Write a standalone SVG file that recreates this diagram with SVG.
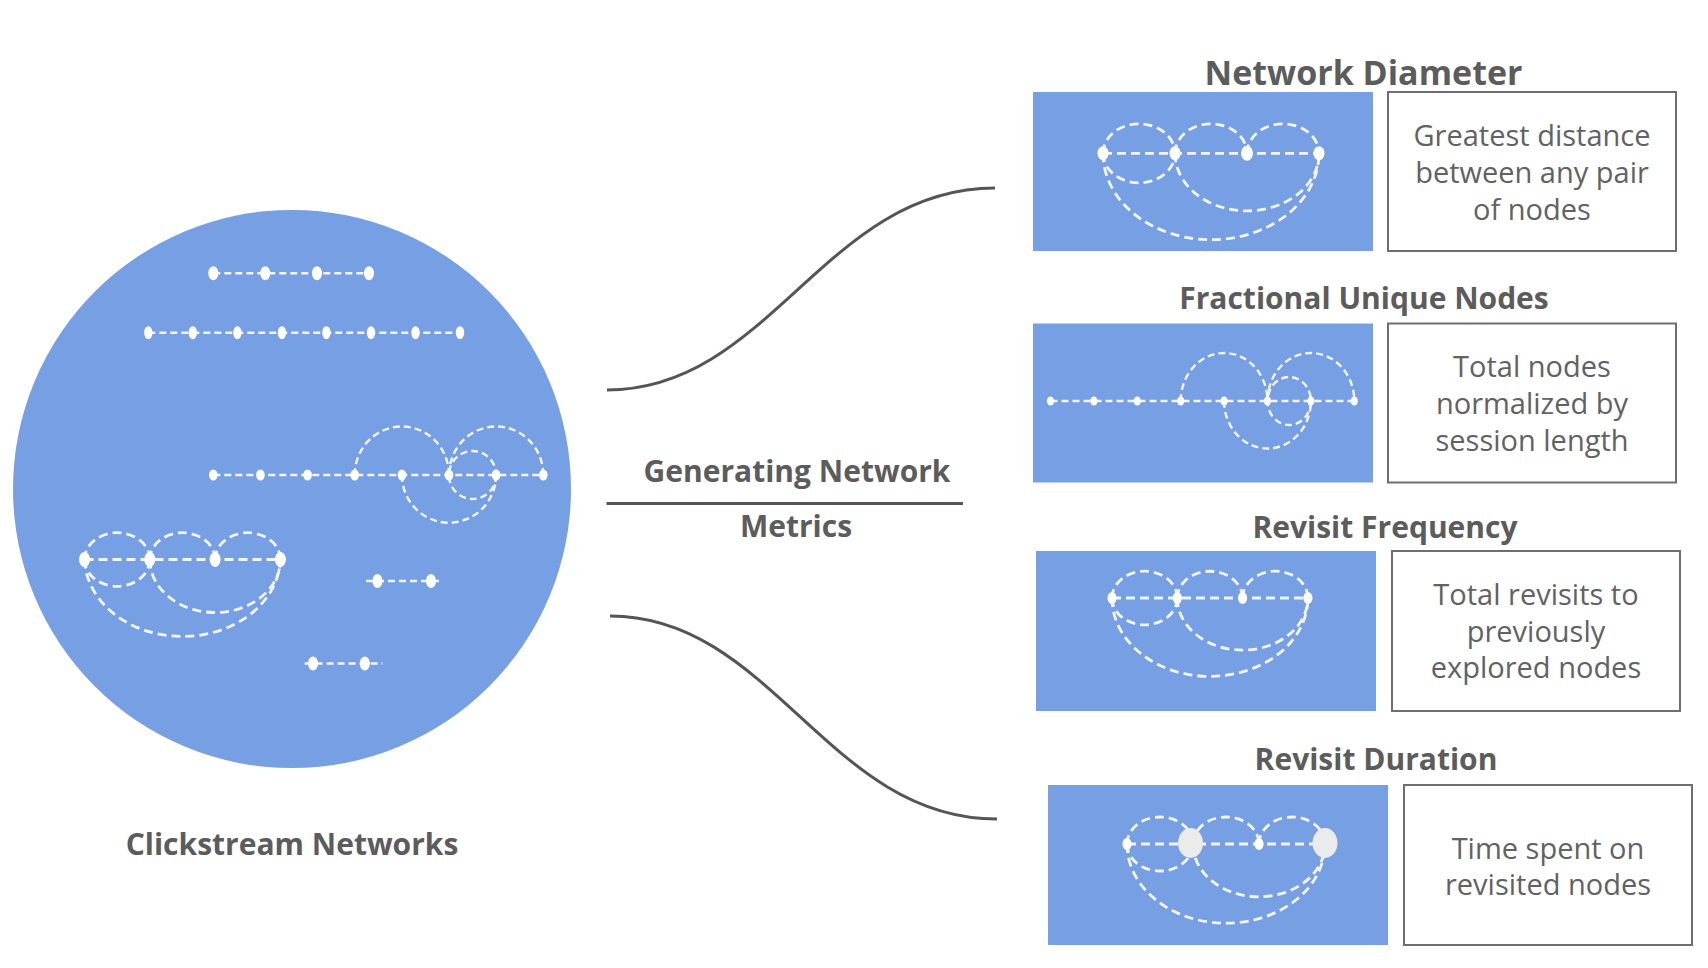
<svg xmlns="http://www.w3.org/2000/svg" width="1708" height="968" viewBox="0 0 1708 968">
<style>
.bg{fill:#ffffff}
.blue{fill:#779fe4}
.box{fill:#ffffff;stroke:#6e6e6e;stroke-width:2}
.e{fill:none;stroke:#f2f4f8;stroke-width:2.8;stroke-dasharray:9 5}
.es{fill:none;stroke:#f2f4f8;stroke-width:2.4;stroke-dasharray:7 4}
.n{fill:#ffffff}
.big{fill:#ebebeb}
.conn{fill:none;stroke:#555555;stroke-width:3}
.title{font-family:"Open Sans","Noto Sans","Liberation Sans",sans-serif;font-weight:bold;fill:#5c5c5c;text-anchor:middle}
.desc{font-family:"Open Sans","Noto Sans","Liberation Sans",sans-serif;font-size:29px;fill:#626262;text-anchor:middle}
</style>
<rect class="bg" x="0" y="0" width="1708" height="968"/>

<g id="clickstream-networks">
  <circle class="blue" cx="292" cy="489" r="279"/>
  <!-- row 1 -->
  <path class="es" d="M213.3,273.3 H369"/>
  <ellipse class="n" cx="213.3" cy="273.3" rx="5" ry="7"/>
  <ellipse class="n" cx="265.3" cy="273.3" rx="5" ry="7"/>
  <ellipse class="n" cx="317" cy="273.3" rx="5" ry="7"/>
  <ellipse class="n" cx="369" cy="273.3" rx="5" ry="7"/>
  <!-- row 2 -->
  <path class="es" d="M148.3,332.7 H460"/>
  <ellipse class="n" cx="148.3" cy="332.7" rx="4.2" ry="6.5"/>
  <ellipse class="n" cx="192.8" cy="332.7" rx="4.2" ry="6.5"/>
  <ellipse class="n" cx="237.4" cy="332.7" rx="4.2" ry="6.5"/>
  <ellipse class="n" cx="281.9" cy="332.7" rx="4.2" ry="6.5"/>
  <ellipse class="n" cx="326.4" cy="332.7" rx="4.2" ry="6.5"/>
  <ellipse class="n" cx="371" cy="332.7" rx="4.2" ry="6.5"/>
  <ellipse class="n" cx="415.5" cy="332.7" rx="4.2" ry="6.5"/>
  <ellipse class="n" cx="460" cy="332.7" rx="4.2" ry="6.5"/>
  <!-- row 3 -->
  <path class="es" d="M213.3,475 H543.3"/>
  <path class="es" d="M354.7,475 A47.1,48.5 0 0 1 449,475"/>
  <path class="es" d="M449,475 A47.1,48.5 0 0 1 543.3,475"/>
  <ellipse class="es" cx="472.55" cy="475" rx="23.6" ry="24"/>
  <path class="es" d="M401.9,475 A47.1,47.7 0 0 0 496.1,475"/>
  <ellipse class="n" cx="213.3" cy="475" rx="4.3" ry="5.5"/>
  <ellipse class="n" cx="260.4" cy="475" rx="4.3" ry="5.5"/>
  <ellipse class="n" cx="307.6" cy="475" rx="4.3" ry="5.5"/>
  <ellipse class="n" cx="354.7" cy="475" rx="4.3" ry="5.5"/>
  <ellipse class="n" cx="401.9" cy="475" rx="4.3" ry="5.5"/>
  <ellipse class="n" cx="449" cy="475" rx="4.3" ry="5.5"/>
  <ellipse class="n" cx="496.1" cy="475" rx="4.3" ry="5.5"/>
  <ellipse class="n" cx="543.3" cy="475" rx="4.3" ry="5.5"/>
  <!-- row 4 loop -->
  <path class="e" d="M84.5,559.5 H280.4"/>
  <path class="e" d="M84.5,559.5 A32.65,26.8 0 0 1 149.8,559.5"/>
  <path class="e" d="M149.8,559.5 A32.65,26.8 0 0 1 215.1,559.5"/>
  <path class="e" d="M215.1,559.5 A32.65,26.8 0 0 1 280.4,559.5"/>
  <path class="e" d="M84.5,559.5 A32.65,26.8 0 0 0 149.8,559.5"/>
  <path class="e" d="M149.8,559.5 A65.3,53 0 0 0 280.4,559.5"/>
  <path class="e" d="M84.5,559.5 A98,79.5 0 0 0 280.4,559.5"/>
  <ellipse class="n" cx="84.5" cy="559.5" rx="5.5" ry="7.5"/>
  <ellipse class="n" cx="149.8" cy="559.5" rx="5.5" ry="7.5"/>
  <ellipse class="n" cx="215.1" cy="559.5" rx="5.5" ry="7.5"/>
  <ellipse class="n" cx="280.4" cy="559.5" rx="5.5" ry="7.5"/>
  <!-- row 5 -->
  <path class="es" d="M366,581 H442.5"/>
  <ellipse class="n" cx="377.4" cy="581" rx="5" ry="7"/>
  <ellipse class="n" cx="431" cy="581" rx="5" ry="7"/>
  <!-- row 6 -->
  <path class="es" d="M304.6,663.5 H382.4"/>
  <ellipse class="n" cx="313" cy="663.5" rx="5" ry="7"/>
  <ellipse class="n" cx="364.8" cy="663.5" rx="5" ry="7"/>
  <text class="title" x="292" y="855" font-size="30">Clickstream Networks</text>
</g>

<g id="connectors">
  <path class="conn" d="M607,390 C770,390 825,188 995,188"/>
  <path class="conn" d="M610,616 C772,616 828,819 997,819"/>
</g>

<g id="generating-label">
  <text class="title" x="797" y="482" font-size="30">Generating Network</text>
  <line x1="606.5" y1="503.5" x2="963" y2="503.5" stroke="#555555" stroke-width="3"/>
  <text class="title" x="796" y="537" font-size="30">Metrics</text>
</g>

<g id="network-diameter">
  <text class="title" x="1363.5" y="85" font-size="34">Network Diameter</text>
  <rect class="blue" x="1033" y="92" width="340" height="159"/>
  <path class="e" d="M1103,153.3 H1319"/>
  <path class="e" d="M1103,153.3 A36,29.5 0 0 1 1175,153.3"/>
  <path class="e" d="M1175,153.3 A36,29.5 0 0 1 1247,153.3"/>
  <path class="e" d="M1247,153.3 A36,29.5 0 0 1 1319,153.3"/>
  <path class="e" d="M1103,153.3 A36,29.5 0 0 0 1175,153.3"/>
  <path class="e" d="M1175,153.3 A72,57.6 0 0 0 1319,153.3"/>
  <path class="e" d="M1103,153.3 A108,86.4 0 0 0 1319,153.3"/>
  <ellipse class="n" cx="1103" cy="153.3" rx="5.5" ry="7"/>
  <ellipse class="n" cx="1175" cy="153.3" rx="5.5" ry="7"/>
  <ellipse class="n" cx="1247" cy="153.3" rx="6" ry="7.5"/>
  <ellipse class="n" cx="1319" cy="153.3" rx="5.5" ry="7"/>
  <rect class="box" x="1388" y="92" width="288" height="159"/>
  <text class="desc" x="1532" y="146">Greatest distance</text>
  <text class="desc" x="1532" y="183">between any pair</text>
  <text class="desc" x="1532" y="219.5">of nodes</text>
</g>

<g id="fractional-unique-nodes">
  <text class="title" x="1364" y="308.5" font-size="30">Fractional Unique Nodes</text>
  <rect class="blue" x="1033" y="323.5" width="340" height="159"/>
  <path class="es" d="M1050.5,401 H1354.3"/>
  <path class="es" d="M1180.7,401 A43.4,48 0 0 1 1267.5,401"/>
  <path class="es" d="M1267.5,401 A43.4,48 0 0 1 1354.3,401"/>
  <ellipse class="es" cx="1289.2" cy="401" rx="21.7" ry="24"/>
  <path class="es" d="M1224.1,401 A43.4,47.5 0 0 0 1310.9,401"/>
  <ellipse class="n" cx="1050.5" cy="401" rx="3.6" ry="4.6"/>
  <ellipse class="n" cx="1093.9" cy="401" rx="3.6" ry="4.6"/>
  <ellipse class="n" cx="1137.3" cy="401" rx="3.6" ry="4.6"/>
  <ellipse class="n" cx="1180.7" cy="401" rx="3.6" ry="4.6"/>
  <ellipse class="n" cx="1224.1" cy="401" rx="3.6" ry="4.6"/>
  <ellipse class="n" cx="1267.5" cy="401" rx="3.6" ry="4.6"/>
  <ellipse class="n" cx="1310.9" cy="401" rx="3.6" ry="4.6"/>
  <ellipse class="n" cx="1354.3" cy="401" rx="3.6" ry="4.6"/>
  <rect class="box" x="1388" y="323.5" width="288" height="159"/>
  <text class="desc" x="1532" y="377">Total nodes</text>
  <text class="desc" x="1532" y="414">normalized by</text>
  <text class="desc" x="1532" y="450.5">session length</text>
</g>

<g id="revisit-frequency">
  <text class="title" x="1385" y="538" font-size="30">Revisit Frequency</text>
  <rect class="blue" x="1036" y="551" width="340" height="160"/>
  <path class="e" d="M1112,598 H1307.9"/>
  <path class="e" d="M1112,598 A32.65,26.8 0 0 1 1177.3,598"/>
  <path class="e" d="M1177.3,598 A32.65,26.8 0 0 1 1242.6,598"/>
  <path class="e" d="M1242.6,598 A32.65,26.8 0 0 1 1307.9,598"/>
  <path class="e" d="M1112,598 A32.65,26.8 0 0 0 1177.3,598"/>
  <path class="e" d="M1177.3,598 A65.3,52.2 0 0 0 1307.9,598"/>
  <path class="e" d="M1112,598 A97.95,78.4 0 0 0 1307.9,598"/>
  <ellipse class="n" cx="1112" cy="598" rx="4.6" ry="6"/>
  <ellipse class="n" cx="1177.3" cy="598" rx="4.6" ry="6"/>
  <ellipse class="n" cx="1242.6" cy="598" rx="4.6" ry="6"/>
  <ellipse class="n" cx="1307.9" cy="598" rx="4.6" ry="6"/>
  <rect class="box" x="1392" y="551" width="288" height="160"/>
  <text class="desc" x="1536" y="605">Total revisits to</text>
  <text class="desc" x="1536" y="641.5">previously</text>
  <text class="desc" x="1536" y="678">explored nodes</text>
</g>

<g id="revisit-duration">
  <text class="title" x="1376" y="770" font-size="30">Revisit Duration</text>
  <rect class="blue" x="1048" y="785" width="340" height="160"/>
  <path class="e" d="M1127,844 H1325"/>
  <path class="e" d="M1127,844 A33,27 0 0 1 1193,844"/>
  <path class="e" d="M1193,844 A33,27 0 0 1 1259,844"/>
  <path class="e" d="M1259,844 A33,27 0 0 1 1325,844"/>
  <path class="e" d="M1127,844 A33,27 0 0 0 1193,844"/>
  <path class="e" d="M1193,844 A66,52.8 0 0 0 1325,844"/>
  <path class="e" d="M1127,844 A99,79.2 0 0 0 1325,844"/>
  <ellipse class="n" cx="1127" cy="844" rx="4.6" ry="6"/>
  <ellipse class="big" cx="1190.5" cy="843" rx="12.5" ry="15"/>
  <ellipse class="n" cx="1259" cy="844" rx="4.6" ry="6"/>
  <ellipse class="big" cx="1325" cy="843" rx="12.5" ry="15"/>
  <rect class="box" x="1404" y="785" width="288" height="160"/>
  <text class="desc" x="1548" y="858.5">Time spent on</text>
  <text class="desc" x="1548" y="894.5">revisited nodes</text>
</g>
</svg>
